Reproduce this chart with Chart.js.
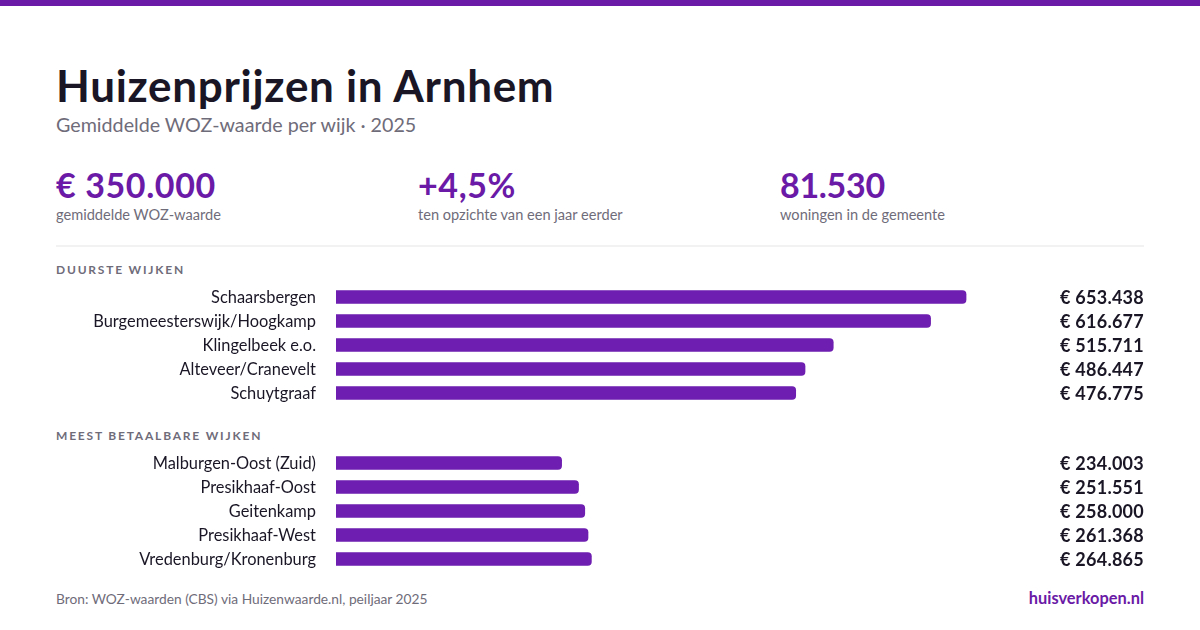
<!DOCTYPE html>
<html lang="nl">
<head>
<meta charset="utf-8">
<title>Huizenprijzen in Arnhem</title>
<script src="https://cdn.jsdelivr.net/npm/chart.js@4"></script>
<style>
  html, body { margin: 0; padding: 0; background: #fff; }
  body { width: 1200px; height: 630px; position: relative; overflow: hidden; font-family: Lato, sans-serif; }
  .abs { position: absolute; white-space: nowrap; line-height: 1; }
  #top-bar { position: absolute; left: 0; top: 0; width: 1200px; height: 6px; background: #6a1aa6; }
  #title { left: 56px; top: 63px; font-size: 44px; font-weight: 700; color: #1a1625; letter-spacing: 0.7px; }
  #subtitle { left: 56px; top: 115px; font-size: 19.7px; color: #6f6c7a; }
  .kpi-val { top: 168px; font-size: 34px; font-weight: 700; color: #6a1aa6; }
  .kpi-lab { top: 208px; font-size: 14.6px; color: #6f6c7a; }
  #divider { position: absolute; left: 56px; top: 245px; width: 1088px; height: 2px; background: #f2f2f3; }
  .section { left: 56px; font-size: 12px; font-weight: 700; letter-spacing: 1.8px; color: #6f6c7a; }
  canvas { position: absolute; left: 56px; }
  #source { left: 56px; top: 592px; font-size: 13.75px; color: #6f6c7a; }
  #brand { right: 56px; top: 590px; font-size: 16.4px; font-weight: 700; color: #6a1aa6; }
</style>
</head>
<body>
<div id="top-bar"></div>
<div class="abs" id="title">Huizenprijzen in Arnhem</div>
<div class="abs" id="subtitle">Gemiddelde WOZ-waarde per wijk · 2025</div>
<div id="kpis"></div>
<div id="divider"></div>
<div class="abs section" style="top:264px">DUURSTE WIJKEN</div>
<canvas id="topChart" style="top:285px"></canvas>
<div class="abs section" style="top:430px">MEEST BETAALBARE WIJKEN</div>
<canvas id="lowChart" style="top:451px"></canvas>
<div class="abs" id="source">Bron: WOZ-waarden (CBS) via Huizenwaarde.nl, peiljaar 2025</div>
<div class="abs" id="brand">huisverkopen.nl</div>

<script>
const kpiValues = ['€ 350.000', '+4,5%', '81.530'];
const kpiLabels = ['gemiddelde WOZ-waarde', 'ten opzichte van een jaar eerder', 'woningen in de gemeente'];
const kpiLefts = [56, 418, 780];
const kpiSpacing = [0.6, 0.6, -0.3];

const topLabels = ['Schaarsbergen', 'Burgemeesterswijk/Hoogkamp', 'Klingelbeek e.o.', 'Alteveer/Cranevelt', 'Schuytgraaf'];
const topValues = [653438, 616677, 515711, 486447, 476775];
const lowLabels = ['Malburgen-Oost (Zuid)', 'Presikhaaf-Oost', 'Geitenkamp', 'Presikhaaf-West', 'Vredenburg/Kronenburg'];
const lowValues = [234003, 251551, 258000, 261368, 264865];

const axisMax = 838000;
const purple = '#6e1eb0';
const fontFamily = 'Lato, sans-serif';

document.getElementById('kpis').innerHTML = kpiValues.map((v, i) => `
  <div class="abs kpi-val" style="left:${kpiLefts[i]}px;letter-spacing:${kpiSpacing[i]}px">${v}</div>
  <div class="abs kpi-lab" style="left:${kpiLefts[i]}px">${kpiLabels[i]}</div>
`).join('');

function euro(v) {
  return '€ ' + String(v).replace(/\B(?=(\d{3})+$)/g, '.');
}

// bedrag rechts naast elke balk
const valueLabels = {
  id: 'valueLabels',
  afterDatasetsDraw(chart) {
    const ctx = chart.ctx;
    const meta = chart.getDatasetMeta(0);
    ctx.save();
    ctx.font = '700 18px ' + fontFamily;
    ctx.letterSpacing = '0.25px';
    ctx.fillStyle = '#1a1625';
    ctx.textAlign = 'right';
    ctx.textBaseline = 'middle';
    meta.data.forEach((bar, i) => {
      ctx.fillText(euro(chart.data.datasets[0].data[i]), chart.chartArea.right, bar.y + 1);
    });
    ctx.restore();
  }
};

function makeChart(id, labels, values) {
  const canvas = document.getElementById(id);
  canvas.width = 1088;
  canvas.height = 120;
  canvas.style.width = '1088px';
  canvas.style.height = '120px';
  new Chart(canvas, {
    type: 'bar',
    data: {
      labels: labels,
      datasets: [{
        data: values,
        backgroundColor: purple,
        barThickness: 13,
        borderSkipped: false,
        borderRadius: { topLeft: 0, bottomLeft: 0, topRight: 4, bottomRight: 4 }
      }]
    },
    options: {
      indexAxis: 'y',
      responsive: false,
      maintainAspectRatio: false,
      animation: false,
      devicePixelRatio: 1,
      layout: { padding: 0 },
      plugins: { legend: { display: false }, tooltip: { enabled: false } },
      scales: {
        x: { display: false, min: 0, max: axisMax },
        y: {
          // vaste labelkolom, geen extra ruimte boven en onder
          afterFit(scale) {
            scale.width = 280;
            scale.paddingTop = 0;
            scale.paddingBottom = 0;
          },
          grid: { display: false, drawTicks: false },
          border: { display: false },
          ticks: { color: '#1a1625', padding: 20, labelOffset: 1, font: { family: fontFamily, size: 16.4 } }
        }
      }
    },
    plugins: [valueLabels]
  });
}

makeChart('topChart', topLabels, topValues);
makeChart('lowChart', lowLabels, lowValues);
</script>
</body>
</html>
